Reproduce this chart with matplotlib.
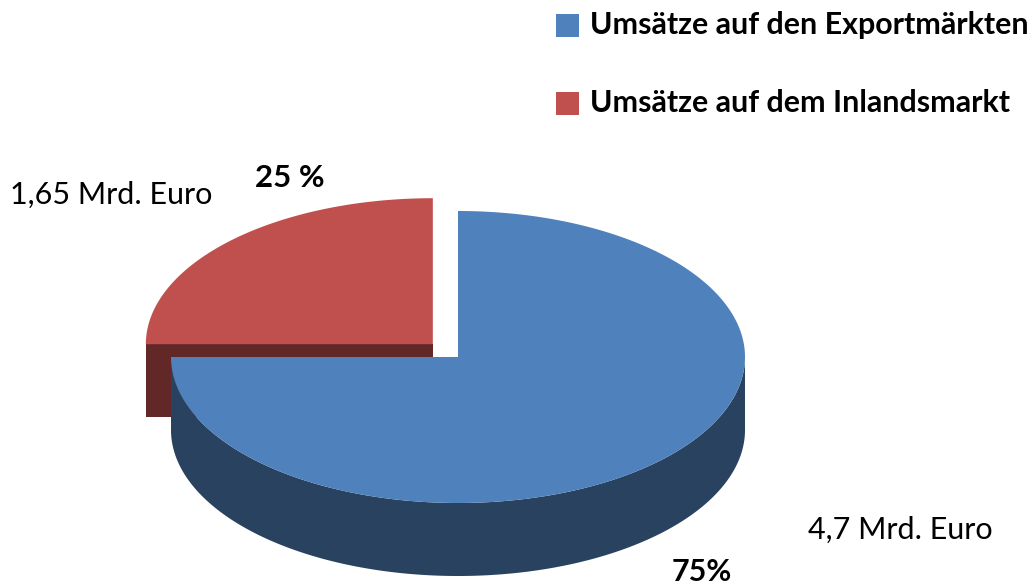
import numpy as np
import matplotlib
matplotlib.use("Agg")
import matplotlib.pyplot as plt
from matplotlib.patches import Polygon, Rectangle

categories = ["Umsätze auf den Exportmärkten", "Umsätze auf dem Inlandsmarkt"]
percents = [75, 25]
amounts = ["4,7 Mrd. Euro", "1,65 Mrd. Euro"]
pct_labels = ["75%", "25 %"]
explode = [0.0, 0.124]

top_colors = ["#4f81bd", "#c0504d"]
side_colors = ["#294260", "#622828"]

W, H = 1034, 586
fig = plt.figure(figsize=(W / 100, H / 100), dpi=100)
ax = fig.add_axes([0, 0, 1, 1])
ax.set_xlim(0, W)
ax.set_ylim(H, 0)
ax.axis("off")

FONT = "Lato"
cx, cy = 458, 357
rx, ry = 287, 146
depth = 73


def pt(c, t):
    return c[0] + rx * np.cos(np.radians(t)), c[1] - ry * np.sin(np.radians(t))


# slice angles: start at 90 deg, clockwise
total = float(sum(percents))
slices = []
start = 90.0
for i, p in enumerate(percents):
    sweep = 360.0 * p / total
    e = start
    s = start - sweep
    slices.append((s, e))
    start = s

order = sorted(range(len(slices)), key=lambda i: -explode[i])  # exploded (back) first
for i in order:
    s, e = slices[i]
    mid = np.radians((s + e) / 2)
    c = (cx + explode[i] * rx * np.cos(mid), cy - explode[i] * ry * np.sin(mid))
    # radial cut faces
    for a, nrm in ((s, s - 90), (e, e + 90)):
        if np.sin(np.radians(nrm)) < -1e-6:
            p = pt(c, a)
            poly = [c, p, (p[0], p[1] + depth), (c[0], c[1] + depth)]
            ax.add_patch(Polygon(poly, closed=True, fc=side_colors[i], ec="none"))
    # outer side (front part: angles 180..360 mod 360)
    ts = np.linspace(s, e, 400)
    mask = np.sin(np.radians(ts)) <= 0
    if mask.sum() > 1:
        tv = ts[mask]
        upper = [pt(c, t) for t in tv]
        lower = [(x, y + depth) for x, y in upper[::-1]]
        ax.add_patch(Polygon(upper + lower, closed=True, fc=side_colors[i], ec="none"))
    # top face
    topv = [c] + [pt(c, t) for t in ts]
    ax.add_patch(Polygon(topv, closed=True, fc=top_colors[i], ec="none"))

# labels
ax.text(10, 195, amounts[1], fontsize=22, family=FONT, ha="left", va="center", color="black")
ax.text(255, 178, pct_labels[1], fontsize=22.5, family=FONT, weight="bold", ha="left", va="center")
ax.text(808, 530, amounts[0], fontsize=22, family=FONT, ha="left", va="center", color="black")
ax.text(672, 572, pct_labels[0], fontsize=22, family=FONT, weight="bold", ha="left", va="center")

# legend
for k, (yc, col) in enumerate(zip([25, 103], top_colors)):
    ax.add_patch(Rectangle((556, yc - 11.5), 23, 23, fc=col, ec="none"))
    ax.text(590, yc, categories[k], fontsize=21.9, family=FONT, weight="bold", ha="left", va="center")

fig.savefig("out.png", dpi=100)
